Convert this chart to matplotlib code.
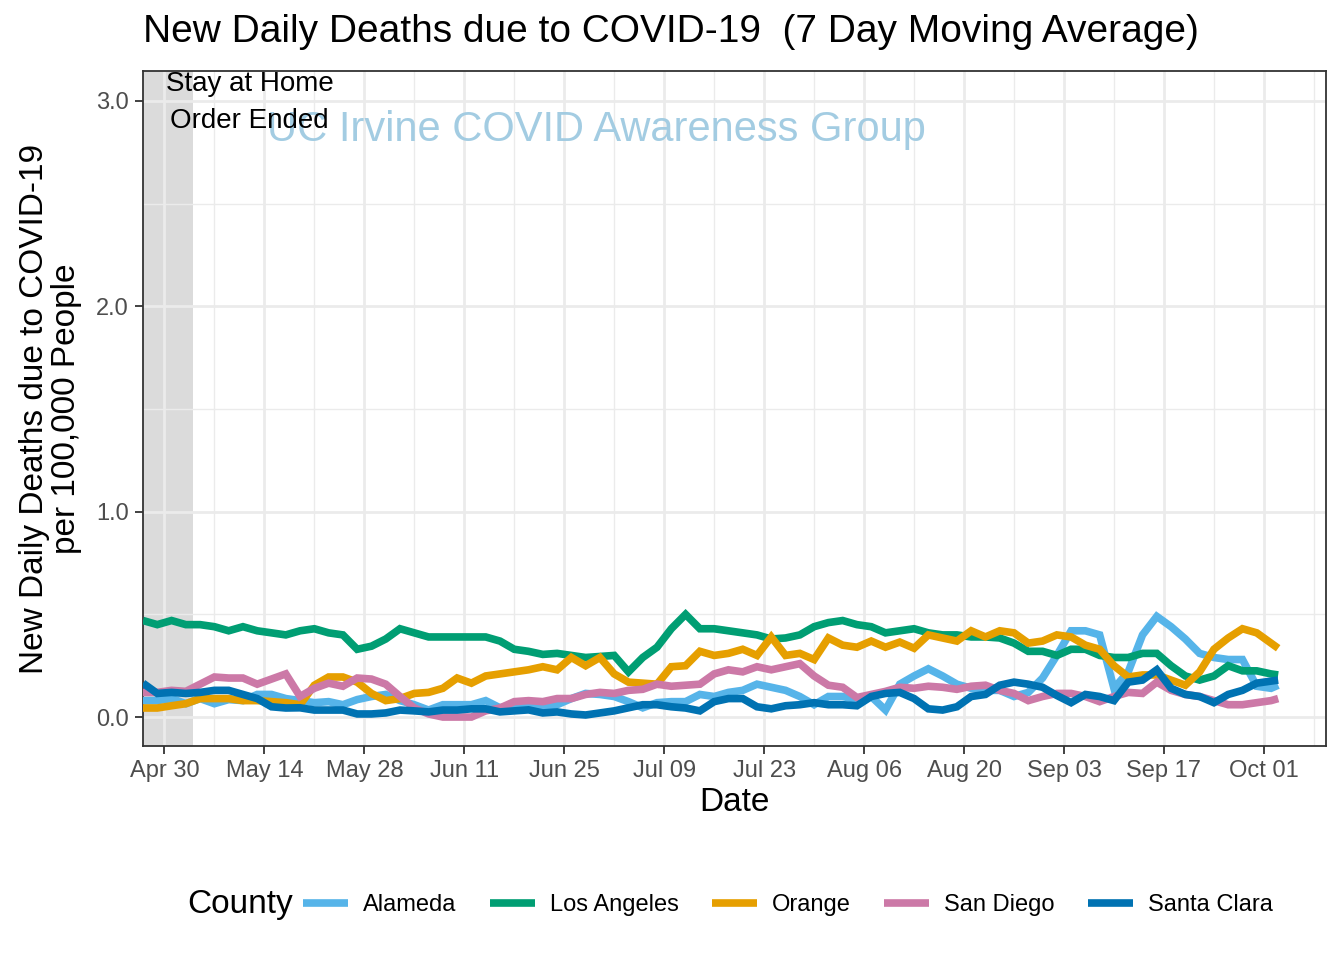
import numpy as np
import matplotlib
matplotlib.use("Agg")
import matplotlib.pyplot as plt
import matplotlib.dates as mdates
from matplotlib.lines import Line2D
import datetime as dt
from matplotlib import font_manager

names = {f.name for f in font_manager.fontManager.ttflist}
FAM = ['Liberation Sans Narrow', 'Liberation Sans', 'DejaVu Sans']
FAM = [f for f in FAM if f in names] + ['DejaVu Sans']
plt.rcParams['font.family'] = FAM

# ---------------- data ----------------
start_date = dt.date(2020, 4, 27)
day_offsets = list(range(0, 160, 2)) + [159]

alameda = [0.08, 0.08, 0.09, 0.065, 0.09, 0.065, 0.085, 0.08, 0.11, 0.11,
           0.09, 0.08, 0.07, 0.075, 0.06, 0.085, 0.10, 0.11, 0.08, 0.06,
           0.034, 0.06, 0.06, 0.06, 0.08, 0.045, 0.06, 0.05, 0.05, 0.06,
           0.09, 0.115, 0.11, 0.10, 0.075, 0.045, 0.07, 0.075, 0.075, 0.11,
           0.10, 0.12, 0.13, 0.16, 0.145, 0.13, 0.10, 0.06, 0.10, 0.10,
           0.085, 0.10, 0.034, 0.16, 0.20, 0.235, 0.20, 0.16, 0.14, 0.13,
           0.13, 0.10, 0.12, 0.19, 0.30, 0.42, 0.42, 0.40, 0.14, 0.22,
           0.40, 0.49, 0.44, 0.38, 0.31, 0.29, 0.28, 0.28, 0.15, 0.14, 0.155]

los_angeles = [0.47, 0.45, 0.47, 0.45, 0.45, 0.44, 0.42, 0.44, 0.42, 0.41,
               0.40, 0.42, 0.43, 0.41, 0.40, 0.33, 0.345, 0.38, 0.43, 0.41,
               0.39, 0.39, 0.39, 0.39, 0.39, 0.37, 0.33, 0.32, 0.305, 0.31,
               0.30, 0.29, 0.295, 0.30, 0.22, 0.29, 0.34, 0.43, 0.50, 0.43,
               0.43, 0.42, 0.41, 0.40, 0.38, 0.385, 0.40, 0.44, 0.46, 0.47,
               0.45, 0.44, 0.41, 0.42, 0.43, 0.41, 0.40, 0.40, 0.39, 0.39,
               0.385, 0.36, 0.32, 0.32, 0.30, 0.33, 0.33, 0.30, 0.29, 0.29,
               0.31, 0.31, 0.25, 0.20, 0.18, 0.20, 0.25, 0.225, 0.225, 0.21, 0.205]

orange = [0.044, 0.044, 0.055, 0.065, 0.09, 0.09, 0.09, 0.08, 0.08, 0.075,
          0.07, 0.06, 0.155, 0.195, 0.195, 0.17, 0.115, 0.08, 0.09, 0.115,
          0.12, 0.14, 0.19, 0.165, 0.20, 0.21, 0.22, 0.23, 0.245, 0.23,
          0.29, 0.25, 0.29, 0.21, 0.17, 0.165, 0.16, 0.245, 0.25, 0.32,
          0.30, 0.31, 0.33, 0.30, 0.39, 0.30, 0.31, 0.28, 0.385, 0.35,
          0.34, 0.37, 0.34, 0.365, 0.335, 0.40, 0.385, 0.37, 0.42, 0.39,
          0.42, 0.41, 0.36, 0.37, 0.40, 0.39, 0.35, 0.33, 0.25, 0.195,
          0.205, 0.205, 0.18, 0.155, 0.22, 0.33, 0.385, 0.43, 0.41, 0.36, 0.335]

san_diego = [0.12, 0.12, 0.13, 0.125, 0.16, 0.195, 0.19, 0.19, 0.16, 0.185,
             0.21, 0.10, 0.14, 0.165, 0.15, 0.19, 0.185, 0.16, 0.10, 0.044,
             0.015, 0.0, 0.0, 0.0, 0.03, 0.044, 0.075, 0.08, 0.075, 0.09,
             0.09, 0.11, 0.12, 0.115, 0.13, 0.135, 0.16, 0.15, 0.155, 0.16,
             0.21, 0.23, 0.22, 0.245, 0.23, 0.245, 0.26, 0.20, 0.155, 0.145,
             0.095, 0.11, 0.125, 0.145, 0.14, 0.15, 0.145, 0.135, 0.15, 0.155,
             0.13, 0.115, 0.08, 0.10, 0.115, 0.115, 0.10, 0.075, 0.10, 0.12,
             0.115, 0.17, 0.13, 0.11, 0.10, 0.08, 0.06, 0.06, 0.07, 0.08, 0.09]

santa_clara = [0.165, 0.115, 0.12, 0.115, 0.12, 0.13, 0.13, 0.11, 0.09, 0.05,
               0.044, 0.045, 0.034, 0.034, 0.034, 0.015, 0.015, 0.02, 0.034, 0.03,
               0.025, 0.034, 0.034, 0.04, 0.04, 0.025, 0.03, 0.035, 0.02, 0.025,
               0.015, 0.01, 0.02, 0.03, 0.045, 0.06, 0.06, 0.05, 0.044, 0.03,
               0.075, 0.09, 0.09, 0.05, 0.04, 0.055, 0.06, 0.07, 0.06, 0.06,
               0.055, 0.10, 0.115, 0.12, 0.09, 0.04, 0.034, 0.05, 0.10, 0.11,
               0.155, 0.17, 0.16, 0.145, 0.105, 0.07, 0.11, 0.10, 0.08, 0.17,
               0.18, 0.23, 0.14, 0.11, 0.10, 0.07, 0.11, 0.13, 0.165, 0.175, 0.18]

counties = ["Alameda", "Los Angeles", "Orange", "San Diego", "Santa Clara"]
series = [alameda, los_angeles, orange, san_diego, santa_clara]
colors = ["#56B4E9", "#009E73", "#E69F00", "#CC79A7", "#0072B2"]

tick_labels = ["Apr 30", "May 14", "May 28", "Jun 11", "Jun 25", "Jul 09",
               "Jul 23", "Aug 06", "Aug 20", "Sep 03", "Sep 17", "Oct 01"]
ytick_vals = [0.0, 1.0, 2.0, 3.0]
ytick_labels = ["0.0", "1.0", "2.0", "3.0"]

order_end = dt.date(2020, 5, 4)

# ---------------- figure ----------------
dates = [start_date + dt.timedelta(days=d) for d in day_offsets]
xnum = mdates.date2num(dates)

fig = plt.figure(figsize=(13.44, 9.6), dpi=100)
ax = fig.add_axes([143/1344, 1-746/960, (1326-143)/1344, (746-71)/960])

x0 = mdates.date2num(start_date)

ax.axvspan(x0 - 30, mdates.date2num(order_end), color="#D9D9D9", alpha=0.95, lw=0, zorder=0.5)

for vals, c, name in zip(series, colors, counties):
    ax.plot(xnum, vals, color=c, lw=5.5, solid_joinstyle='miter', solid_capstyle='butt',
            label=name, zorder=3)

first_tick = dt.date(2020, 4, 30)
major = [mdates.date2num(first_tick + dt.timedelta(days=14*i)) for i in range(len(tick_labels))]
minor = [m + 7 for m in major]
ax.set_xticks(major)
ax.set_xticklabels(tick_labels)
ax.set_xticks(minor, minor=True)
ax.set_yticks(ytick_vals)
ax.set_yticklabels(ytick_labels)
ax.set_yticks([0.5, 1.5, 2.5], minor=True)

ax.set_xlim(x0, x0 + 165.7)
ax.set_ylim(-0.141, 3.146)

ax.grid(which='major', color="#EBEBEB", lw=2.0, zorder=0)
ax.grid(which='minor', color="#EBEBEB", lw=1.0, zorder=0)
ax.set_axisbelow(True)
ax.tick_params(axis='both', which='major', length=6, width=1.3, color="#333333",
               labelsize=17, labelcolor="#4D4D4D", pad=4)
ax.tick_params(axis='both', which='minor', length=0)
for s in ax.spines.values():
    s.set_color("#333333")
    s.set_linewidth(1.3)

ax.set_xlabel("Date", fontsize=24, labelpad=4)
ax.set_ylabel("New Daily Deaths due to COVID-19\nper 100,000 People", fontsize=24,
              labelpad=10, linespacing=1.05)

fig.text(143/1344, 1-32/960, "New Daily Deaths due to COVID-19  (7 Day Moving Average)",
         fontsize=28, ha='left', va='center')

ax.text(x0 + 14.9, 2.993, "Stay at Home\nOrder Ended", fontsize=20, ha='center', va='center',
        linespacing=1.55, zorder=5)
ax.text(x0 + 63.5, 2.859, "UC Irvine COVID Awareness Group", fontsize=30, ha='center',
        va='center', color="#9ECAE1", alpha=0.95, zorder=4)

handles = [Line2D([], [], color=c, lw=5.5, solid_capstyle='butt') for c in colors]
fig.text(187/1344, 1-905/960, "County", fontsize=24, ha='left', va='center')
leg = fig.legend(handles, counties, loc='center left', bbox_to_anchor=(303/1344, 1-905/960),
                 ncol=5, frameon=False, fontsize=17, handlelength=1.9, handletextpad=0.65,
                 columnspacing=1.4, borderaxespad=0, borderpad=0)

fig.savefig("out.png", dpi=100)
